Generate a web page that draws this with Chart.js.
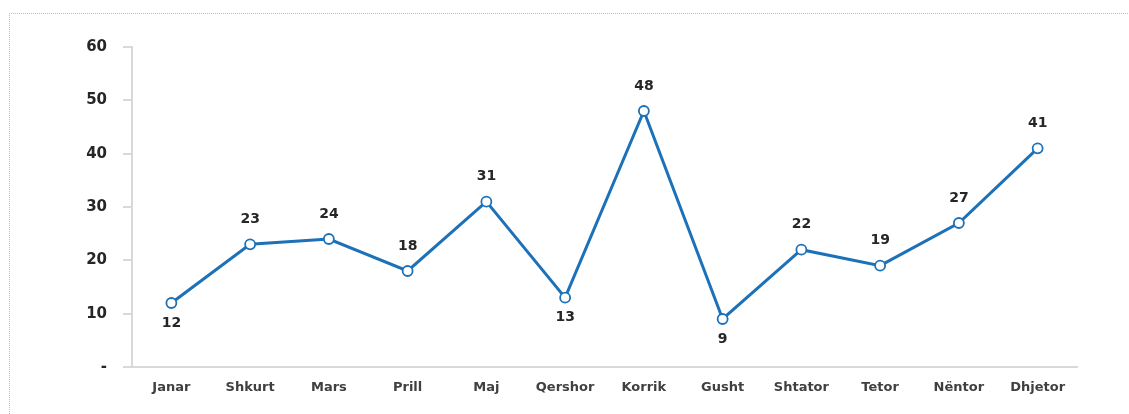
<!DOCTYPE html>
<html>
<head>
<meta charset="utf-8">
<script src="https://cdn.jsdelivr.net/npm/chart.js@4"></script>
<style>
  html, body { margin: 0; padding: 0; background: #fff; }
  #wrap { position: relative; width: 1129px; height: 414px; overflow: hidden; }
  #frame { position: absolute; left: 9px; top: 13px; width: 1200px; height: 500px;
           border-top: 1px dotted #bdbdbd; border-left: 1px dotted #bdbdbd; }
  canvas { position: absolute; left: 0; top: 0; }
</style>
</head>
<body>
<div id="wrap">
  <div id="frame"></div>
  <canvas id="monthsChart" width="1129" height="414"></canvas>
</div>
<script>
const months = ["Janar", "Shkurt", "Mars", "Prill", "Maj", "Qershor", "Korrik",
  "Gusht", "Shtator", "Tetor", "Nëntor", "Dhjetor"]
const values = [12, 23, 24, 18, 31, 13, 48, 9, 22, 19, 27, 41]
// which labels sit under the point instead of over it
const labelBelow = [true, false, false, false, false, true, false, true, false, false, false, false]

const lineColor = "#1c71b8"
const fontFamily = "'DejaVu Sans', sans-serif"

/**
 * Draws the value over (or under) each point
 */
const valueLabels = {
  id: "valueLabels",
  afterDatasetsDraw(chart) {
    const ctx = chart.ctx
    const meta = chart.getDatasetMeta(0)
    ctx.save()
    ctx.font = "bold 14px " + fontFamily
    ctx.fillStyle = "#262626"
    ctx.textAlign = "center"
    ctx.textBaseline = "middle"
    meta.data.forEach((pt, i) => {
      const y = labelBelow[i] ? pt.y + 20 : pt.y - 25
      ctx.fillText(String(values[i]), pt.x, y)
    })
    ctx.restore()
  },
}

const ctx = document.getElementById("monthsChart").getContext("2d")

new Chart(ctx, {
  type: "line",
  data: {
    labels: months,
    datasets: [{
      data: values,
      borderColor: lineColor,
      borderWidth: 3,
      pointRadius: 5,
      pointBorderWidth: 1.8,
      pointBackgroundColor: "#ffffff",
      pointBorderColor: lineColor,
      tension: 0,
    }],
  },
  options: {
    responsive: false,
    animation: false,
    layout: { padding: { top: 47, right: 52, left: 0, bottom: 0 } },
    plugins: {
      legend: { display: false },
      tooltip: { enabled: false },
    },
    scales: {
      x: {
        offset: true,
        grid: { display: false },
        border: { color: "#d9d9d9", width: 2 },
        ticks: {
          padding: 5,
          color: "#404040",
          font: { family: fontFamily, size: 13, weight: "bold" },
          maxRotation: 0,
        },
        afterFit(scale) { scale.height = 47 },
      },
      y: {
        min: 0,
        max: 60,
        grid: { drawOnChartArea: false, tickLength: 9, color: "#d9d9d9", lineWidth: 2 },
        border: { color: "#d9d9d9", width: 2 },
        ticks: {
          stepSize: 10,
          padding: 16,
          color: "#262626",
          font: { family: fontFamily, size: 15, weight: "bold" },
          callback: (v) => (v === 0 ? "-" : v),
        },
        afterFit(scale) { scale.width = 132 },
      },
    },
  },
  plugins: [valueLabels],
})
</script>
</body>
</html>
